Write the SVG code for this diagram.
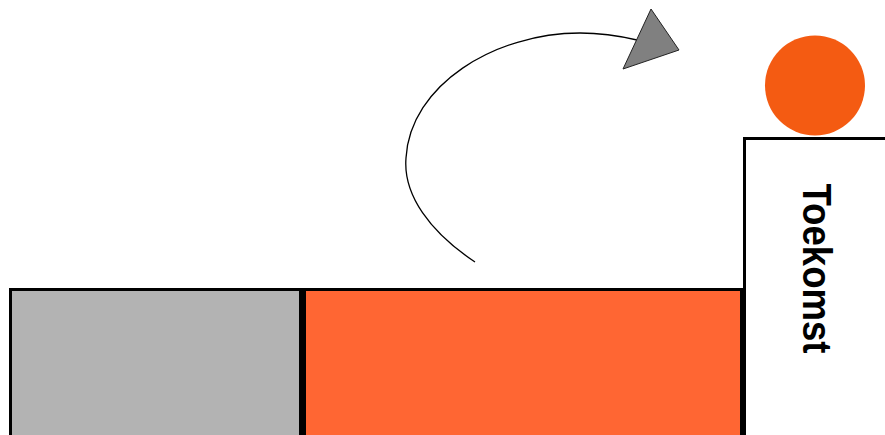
<svg xmlns="http://www.w3.org/2000/svg" width="885" height="435" viewBox="0 0 885 435">
<style>
.blk{stroke:#000;stroke-width:3}
.lbl{font-family:"Liberation Sans",Arial,sans-serif;font-weight:bold;font-size:41px;fill:#000}
</style>
<rect width="885" height="435" fill="#fff"/>
<g id="past">
<rect x="10.5" y="289.5" width="290" height="160" fill="#b3b3b3" class="blk"/>
</g>
<g id="present">
<rect x="301.5" y="289.5" width="440" height="160" fill="#ff6633" class="blk" stroke-width="0"/>
<line x1="301" y1="289.5" x2="742" y2="289.5" class="blk"/>
<line x1="304.5" y1="288" x2="304.5" y2="435" class="blk"/>
<line x1="741.5" y1="288" x2="741.5" y2="435" class="blk"/>
</g>
<g id="future">
<path d="M744.5 435 V138.5 H885" fill="#fff" class="blk" stroke-width="2.5"/>
<text class="lbl" transform="translate(803,183.5) rotate(90)" textLength="170" lengthAdjust="spacingAndGlyphs">Toekomst</text>
</g>
<g id="dot">
<circle cx="815" cy="85.5" r="50" fill="#f45b12"/>
</g>
<g id="connectors">
<path d="M475 262 C430 232 403 195 406 158 C410 85 495 33 580 33 C600 33 620 36 637 40" fill="none" stroke="#000" stroke-width="1.3"/>
<polygon points="651,9 679,50 623,69" fill="#808080" stroke="#222" stroke-width="1"/>
</g>
</svg>
